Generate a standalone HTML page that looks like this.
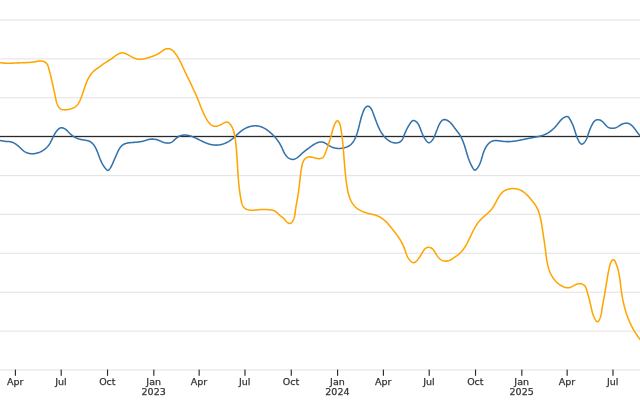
<!DOCTYPE html>
<html><head><meta charset="utf-8"><style>
html,body{margin:0;padding:0;background:#fff;}
svg{display:block;}
text{font-family:"DejaVu Sans", sans-serif;font-size:9.5px;fill:#333;stroke:#333;stroke-width:0.25px;}
</style></head><body>
<svg width="640" height="400" viewBox="0 0 640 400">
<rect width="640" height="400" fill="#fff"/>
<rect x="0" y="19.40" width="640" height="1.2" fill="#e6e6e6"/><rect x="0" y="58.29" width="640" height="1.2" fill="#e6e6e6"/><rect x="0" y="97.18" width="640" height="1.2" fill="#e6e6e6"/><rect x="0" y="174.96" width="640" height="1.2" fill="#e6e6e6"/><rect x="0" y="213.84" width="640" height="1.2" fill="#e6e6e6"/><rect x="0" y="252.73" width="640" height="1.2" fill="#e6e6e6"/><rect x="0" y="291.62" width="640" height="1.2" fill="#e6e6e6"/><rect x="0" y="330.51" width="640" height="1.2" fill="#e6e6e6"/><rect x="0" y="369.40" width="640" height="1.2" fill="#e6e6e6"/>
<rect x="0" y="135.85" width="640" height="1.3" fill="#2a2a2a"/>
<path d="M-4.00,140.20 L-3.47,140.18 L-2.95,140.17 L-2.44,140.19 L-1.94,140.22 L-1.44,140.27 L-0.95,140.32 L-0.47,140.39 L0.01,140.47 L0.49,140.56 L0.97,140.65 L1.44,140.74 L1.92,140.83 L2.40,140.93 L2.88,141.02 L3.37,141.10 L3.86,141.18 L4.36,141.25 L4.86,141.31 L5.37,141.36 L5.89,141.40 L6.42,141.43 L6.95,141.45 L7.48,141.48 L8.01,141.51 L8.53,141.54 L9.05,141.59 L9.57,141.64 L10.07,141.71 L10.57,141.80 L11.05,141.91 L11.53,142.03 L11.99,142.18 L12.45,142.34 L12.89,142.51 L13.33,142.70 L13.76,142.91 L14.18,143.13 L14.60,143.36 L15.01,143.60 L15.42,143.86 L15.81,144.13 L16.21,144.41 L16.60,144.70 L16.99,145.00 L17.37,145.30 L17.75,145.62 L18.13,145.94 L18.51,146.27 L18.88,146.60 L19.26,146.95 L19.63,147.29 L20.01,147.64 L20.38,147.99 L20.76,148.35 L21.14,148.70 L21.52,149.06 L21.90,149.41 L22.29,149.75 L22.68,150.09 L23.08,150.42 L23.48,150.74 L23.88,151.05 L24.29,151.35 L24.71,151.63 L25.13,151.89 L25.56,152.14 L26.00,152.36 L26.44,152.57 L26.89,152.76 L27.34,152.94 L27.80,153.10 L28.27,153.24 L28.74,153.36 L29.21,153.47 L29.69,153.56 L30.17,153.63 L30.65,153.69 L31.14,153.73 L31.62,153.76 L32.11,153.78 L32.60,153.77 L33.10,153.76 L33.59,153.73 L34.08,153.68 L34.58,153.62 L35.07,153.55 L35.57,153.46 L36.06,153.36 L36.55,153.25 L37.04,153.12 L37.53,152.98 L38.01,152.83 L38.49,152.67 L38.97,152.49 L39.45,152.31 L39.92,152.11 L40.39,151.90 L40.85,151.68 L41.31,151.45 L41.76,151.21 L42.21,150.95 L42.65,150.69 L43.09,150.42 L43.52,150.14 L43.94,149.84 L44.35,149.54 L44.76,149.23 L45.16,148.91 L45.55,148.59 L45.93,148.25 L46.30,147.91 L46.66,147.56 L47.01,147.20 L47.35,146.83 L47.69,146.46 L48.01,146.08 L48.31,145.69 L48.61,145.30 L48.90,144.90 L49.18,144.49 L49.45,144.08 L49.71,143.66 L49.96,143.24 L50.21,142.82 L50.45,142.39 L50.68,141.96 L50.91,141.52 L51.14,141.08 L51.36,140.64 L51.58,140.20 L51.79,139.75 L52.01,139.30 L52.22,138.86 L52.44,138.41 L52.65,137.96 L52.87,137.51 L53.08,137.06 L53.30,136.61 L53.53,136.16 L53.76,135.72 L53.99,135.27 L54.23,134.83 L54.47,134.39 L54.72,133.95 L54.98,133.51 L55.24,133.08 L55.51,132.65 L55.80,132.23 L56.09,131.81 L56.40,131.40 L56.71,130.99 L57.04,130.58 L57.38,130.19 L57.73,129.80 L58.10,129.43 L58.48,129.08 L58.87,128.76 L59.28,128.48 L59.70,128.23 L60.14,128.04 L60.59,127.89 L61.06,127.80 L61.54,127.77 L62.03,127.80 L62.52,127.87 L63.02,128.00 L63.51,128.17 L64.00,128.37 L64.47,128.61 L64.93,128.88 L65.37,129.17 L65.79,129.48 L66.19,129.80 L66.58,130.14 L66.96,130.50 L67.32,130.86 L67.68,131.22 L68.03,131.59 L68.38,131.97 L68.73,132.33 L69.09,132.70 L69.44,133.06 L69.80,133.41 L70.17,133.75 L70.54,134.08 L70.91,134.41 L71.29,134.73 L71.67,135.04 L72.05,135.34 L72.44,135.64 L72.84,135.92 L73.24,136.20 L73.65,136.47 L74.06,136.73 L74.47,136.98 L74.89,137.22 L75.32,137.46 L75.75,137.68 L76.19,137.90 L76.63,138.10 L77.08,138.30 L77.54,138.48 L78.00,138.66 L78.46,138.82 L78.94,138.98 L79.42,139.12 L79.90,139.25 L80.39,139.38 L80.89,139.49 L81.40,139.59 L81.91,139.68 L82.42,139.77 L82.94,139.85 L83.46,139.92 L83.97,140.00 L84.49,140.07 L85.01,140.15 L85.52,140.23 L86.03,140.32 L86.53,140.42 L87.03,140.52 L87.51,140.64 L87.99,140.77 L88.46,140.92 L88.91,141.08 L89.35,141.27 L89.78,141.47 L90.19,141.69 L90.59,141.93 L90.98,142.19 L91.35,142.47 L91.72,142.76 L92.07,143.07 L92.41,143.40 L92.74,143.73 L93.06,144.09 L93.38,144.45 L93.68,144.83 L93.97,145.22 L94.25,145.62 L94.53,146.04 L94.79,146.46 L95.05,146.89 L95.30,147.33 L95.54,147.78 L95.78,148.24 L96.01,148.70 L96.24,149.17 L96.46,149.65 L96.67,150.13 L96.88,150.61 L97.09,151.10 L97.29,151.59 L97.48,152.09 L97.68,152.58 L97.87,153.08 L98.06,153.58 L98.24,154.07 L98.43,154.57 L98.61,155.06 L98.79,155.55 L98.97,156.04 L99.15,156.53 L99.33,157.01 L99.51,157.49 L99.69,157.96 L99.87,158.43 L100.06,158.89 L100.24,159.34 L100.43,159.80 L100.62,160.24 L100.81,160.69 L101.01,161.13 L101.21,161.56 L101.42,162.00 L101.63,162.43 L101.84,162.85 L102.06,163.28 L102.29,163.70 L102.52,164.12 L102.76,164.53 L103.01,164.95 L103.26,165.36 L103.52,165.77 L103.80,166.18 L104.07,166.58 L104.36,166.99 L104.66,167.40 L104.97,167.80 L105.29,168.21 L105.62,168.61 L105.96,169.01 L106.31,169.41 L106.67,169.79 L107.04,170.10 L107.42,170.31 L107.81,170.39 L108.20,170.31 L108.60,170.10 L108.99,169.78 L109.37,169.37 L109.75,168.90 L110.10,168.39 L110.44,167.86 L110.75,167.35 L111.04,166.85 L111.31,166.36 L111.56,165.89 L111.79,165.42 L112.01,164.97 L112.22,164.52 L112.42,164.08 L112.61,163.64 L112.79,163.21 L112.97,162.78 L113.16,162.35 L113.34,161.92 L113.52,161.49 L113.71,161.06 L113.90,160.63 L114.09,160.19 L114.28,159.75 L114.47,159.32 L114.66,158.88 L114.86,158.43 L115.05,157.99 L115.25,157.54 L115.45,157.08 L115.65,156.62 L115.85,156.16 L116.05,155.69 L116.26,155.22 L116.46,154.75 L116.67,154.27 L116.88,153.78 L117.09,153.30 L117.30,152.81 L117.52,152.33 L117.75,151.84 L117.97,151.36 L118.21,150.89 L118.45,150.41 L118.69,149.95 L118.95,149.49 L119.21,149.04 L119.47,148.60 L119.75,148.17 L120.04,147.75 L120.33,147.34 L120.64,146.95 L120.96,146.58 L121.28,146.22 L121.62,145.87 L121.97,145.55 L122.34,145.24 L122.72,144.96 L123.11,144.69 L123.51,144.45 L123.93,144.23 L124.36,144.02 L124.80,143.83 L125.24,143.66 L125.70,143.51 L126.17,143.37 L126.64,143.24 L127.13,143.13 L127.61,143.02 L128.11,142.93 L128.61,142.85 L129.11,142.78 L129.62,142.72 L130.13,142.66 L130.65,142.61 L131.16,142.56 L131.68,142.52 L132.20,142.49 L132.72,142.45 L133.23,142.42 L133.75,142.39 L134.26,142.36 L134.77,142.33 L135.27,142.29 L135.78,142.25 L136.27,142.21 L136.77,142.17 L137.26,142.12 L137.75,142.07 L138.24,142.01 L138.72,141.95 L139.20,141.89 L139.68,141.82 L140.16,141.74 L140.64,141.66 L141.11,141.57 L141.59,141.48 L142.07,141.38 L142.54,141.27 L143.02,141.15 L143.50,141.03 L143.97,140.90 L144.45,140.76 L144.93,140.62 L145.42,140.47 L145.90,140.31 L146.39,140.16 L146.87,140.01 L147.36,139.86 L147.85,139.72 L148.35,139.59 L148.84,139.48 L149.34,139.38 L149.84,139.29 L150.35,139.23 L150.85,139.17 L151.36,139.14 L151.86,139.12 L152.37,139.11 L152.87,139.12 L153.37,139.15 L153.87,139.19 L154.37,139.24 L154.87,139.31 L155.37,139.39 L155.86,139.49 L156.34,139.60 L156.83,139.72 L157.30,139.85 L157.78,140.00 L158.25,140.17 L158.71,140.34 L159.16,140.53 L159.62,140.72 L160.07,140.92 L160.52,141.13 L160.97,141.33 L161.42,141.54 L161.88,141.74 L162.34,141.93 L162.81,142.11 L163.29,142.29 L163.78,142.45 L164.28,142.59 L164.78,142.72 L165.29,142.84 L165.80,142.93 L166.31,143.01 L166.82,143.06 L167.33,143.10 L167.83,143.11 L168.33,143.09 L168.82,143.05 L169.31,142.99 L169.79,142.89 L170.25,142.77 L170.70,142.61 L171.14,142.42 L171.56,142.21 L171.97,141.96 L172.37,141.69 L172.77,141.40 L173.15,141.09 L173.53,140.76 L173.90,140.42 L174.27,140.07 L174.64,139.72 L175.01,139.36 L175.39,139.00 L175.76,138.65 L176.15,138.31 L176.54,137.97 L176.94,137.64 L177.36,137.34 L177.79,137.05 L178.22,136.78 L178.67,136.53 L179.12,136.29 L179.58,136.08 L180.05,135.89 L180.52,135.72 L181.00,135.57 L181.48,135.44 L181.96,135.33 L182.44,135.24 L182.93,135.18 L183.42,135.12 L183.91,135.09 L184.40,135.07 L184.89,135.07 L185.38,135.09 L185.88,135.12 L186.37,135.17 L186.86,135.23 L187.36,135.30 L187.85,135.38 L188.34,135.48 L188.83,135.59 L189.32,135.71 L189.81,135.84 L190.29,135.98 L190.78,136.12 L191.26,136.28 L191.74,136.44 L192.21,136.61 L192.68,136.79 L193.15,136.97 L193.62,137.16 L194.08,137.35 L194.54,137.55 L195.00,137.76 L195.46,137.96 L195.91,138.17 L196.36,138.38 L196.81,138.60 L197.26,138.82 L197.71,139.04 L198.16,139.26 L198.61,139.48 L199.06,139.71 L199.50,139.93 L199.95,140.16 L200.39,140.38 L200.84,140.61 L201.29,140.83 L201.74,141.05 L202.19,141.27 L202.64,141.48 L203.09,141.70 L203.54,141.91 L204.00,142.12 L204.45,142.32 L204.91,142.52 L205.37,142.71 L205.84,142.90 L206.30,143.09 L206.77,143.27 L207.24,143.44 L207.72,143.60 L208.20,143.76 L208.67,143.91 L209.16,144.06 L209.64,144.19 L210.13,144.32 L210.61,144.44 L211.10,144.55 L211.59,144.66 L212.08,144.75 L212.58,144.83 L213.07,144.91 L213.57,144.97 L214.06,145.02 L214.56,145.06 L215.06,145.09 L215.55,145.11 L216.05,145.12 L216.55,145.11 L217.04,145.09 L217.54,145.06 L218.04,145.02 L218.53,144.97 L219.03,144.91 L219.52,144.84 L220.01,144.75 L220.50,144.66 L220.99,144.55 L221.48,144.44 L221.97,144.31 L222.45,144.17 L222.93,144.03 L223.41,143.87 L223.88,143.71 L224.36,143.53 L224.82,143.35 L225.29,143.16 L225.75,142.96 L226.21,142.75 L226.67,142.53 L227.12,142.31 L227.57,142.07 L228.01,141.83 L228.45,141.58 L228.88,141.32 L229.31,141.06 L229.73,140.78 L230.15,140.50 L230.56,140.22 L230.97,139.92 L231.37,139.63 L231.77,139.32 L232.16,139.01 L232.55,138.69 L232.94,138.38 L233.32,138.05 L233.70,137.72 L234.08,137.39 L234.46,137.06 L234.83,136.73 L235.20,136.39 L235.58,136.05 L235.94,135.71 L236.31,135.37 L236.68,135.03 L237.05,134.69 L237.42,134.35 L237.79,134.01 L238.16,133.68 L238.53,133.34 L238.90,133.01 L239.28,132.68 L239.66,132.35 L240.03,132.03 L240.42,131.71 L240.80,131.40 L241.19,131.09 L241.58,130.78 L241.98,130.49 L242.38,130.19 L242.78,129.91 L243.19,129.63 L243.60,129.36 L244.02,129.10 L244.45,128.84 L244.88,128.60 L245.32,128.36 L245.77,128.13 L246.22,127.91 L246.67,127.71 L247.13,127.51 L247.60,127.32 L248.07,127.14 L248.55,126.98 L249.03,126.82 L249.51,126.67 L249.99,126.54 L250.48,126.41 L250.98,126.30 L251.47,126.20 L251.96,126.11 L252.46,126.03 L252.96,125.97 L253.46,125.91 L253.96,125.87 L254.46,125.85 L254.96,125.83 L255.46,125.83 L255.96,125.84 L256.46,125.86 L256.95,125.90 L257.45,125.95 L257.94,126.01 L258.43,126.09 L258.92,126.18 L259.40,126.29 L259.88,126.41 L260.36,126.54 L260.83,126.69 L261.30,126.85 L261.77,127.03 L262.23,127.22 L262.69,127.42 L263.14,127.63 L263.59,127.85 L264.04,128.09 L264.48,128.33 L264.92,128.58 L265.35,128.85 L265.78,129.12 L266.21,129.40 L266.63,129.68 L267.05,129.97 L267.46,130.27 L267.87,130.58 L268.28,130.89 L268.68,131.20 L269.08,131.52 L269.47,131.84 L269.86,132.17 L270.24,132.50 L270.62,132.83 L271.00,133.16 L271.37,133.50 L271.74,133.84 L272.10,134.18 L272.46,134.52 L272.82,134.87 L273.17,135.22 L273.52,135.57 L273.86,135.92 L274.20,136.28 L274.53,136.64 L274.86,137.01 L275.19,137.37 L275.51,137.75 L275.82,138.12 L276.14,138.50 L276.44,138.88 L276.75,139.26 L277.05,139.65 L277.34,140.04 L277.63,140.44 L277.92,140.84 L278.20,141.24 L278.48,141.65 L278.76,142.06 L279.02,142.47 L279.29,142.89 L279.55,143.31 L279.81,143.74 L280.06,144.17 L280.31,144.61 L280.55,145.05 L280.79,145.50 L281.02,145.95 L281.25,146.40 L281.48,146.86 L281.70,147.32 L281.92,147.79 L282.14,148.26 L282.35,148.73 L282.57,149.21 L282.78,149.68 L283.00,150.15 L283.21,150.62 L283.43,151.09 L283.66,151.56 L283.88,152.02 L284.12,152.48 L284.35,152.93 L284.60,153.37 L284.85,153.81 L285.12,154.24 L285.39,154.66 L285.67,155.07 L285.96,155.47 L286.27,155.85 L286.58,156.23 L286.92,156.59 L287.26,156.93 L287.62,157.26 L288.00,157.58 L288.40,157.87 L288.81,158.15 L289.24,158.41 L289.68,158.65 L290.14,158.86 L290.60,159.05 L291.07,159.20 L291.55,159.31 L292.02,159.39 L292.48,159.42 L292.94,159.41 L293.40,159.37 L293.85,159.29 L294.30,159.17 L294.75,159.03 L295.19,158.85 L295.62,158.65 L296.05,158.42 L296.48,158.17 L296.91,157.89 L297.33,157.60 L297.75,157.29 L298.16,156.97 L298.57,156.63 L298.98,156.28 L299.38,155.93 L299.78,155.57 L300.18,155.20 L300.57,154.83 L300.96,154.46 L301.35,154.09 L301.73,153.73 L302.12,153.37 L302.50,153.03 L302.87,152.69 L303.25,152.36 L303.62,152.04 L303.99,151.73 L304.36,151.43 L304.73,151.13 L305.10,150.84 L305.47,150.55 L305.84,150.27 L306.22,149.99 L306.59,149.71 L306.97,149.43 L307.35,149.15 L307.73,148.87 L308.12,148.59 L308.51,148.30 L308.91,148.01 L309.31,147.72 L309.72,147.42 L310.14,147.12 L310.56,146.81 L310.98,146.50 L311.41,146.19 L311.84,145.88 L312.28,145.58 L312.72,145.27 L313.17,144.98 L313.62,144.68 L314.07,144.40 L314.52,144.12 L314.98,143.86 L315.44,143.61 L315.90,143.36 L316.37,143.14 L316.83,142.93 L317.30,142.73 L317.76,142.56 L318.23,142.40 L318.70,142.26 L319.17,142.15 L319.63,142.06 L320.10,142.00 L320.57,141.96 L321.03,141.95 L321.50,141.96 L321.96,142.01 L322.42,142.09 L322.88,142.20 L323.33,142.34 L323.79,142.51 L324.24,142.71 L324.69,142.92 L325.14,143.15 L325.59,143.40 L326.04,143.67 L326.49,143.94 L326.94,144.22 L327.38,144.51 L327.83,144.80 L328.27,145.08 L328.72,145.37 L329.17,145.65 L329.61,145.91 L330.06,146.17 L330.51,146.42 L330.96,146.65 L331.41,146.86 L331.86,147.06 L332.31,147.25 L332.76,147.42 L333.22,147.58 L333.68,147.73 L334.14,147.86 L334.60,147.98 L335.06,148.09 L335.53,148.18 L336.00,148.26 L336.47,148.33 L336.94,148.39 L337.42,148.43 L337.90,148.46 L338.39,148.48 L338.88,148.48 L339.37,148.48 L339.86,148.46 L340.36,148.43 L340.86,148.39 L341.37,148.33 L341.88,148.27 L342.40,148.19 L342.91,148.10 L343.43,148.00 L343.94,147.89 L344.46,147.76 L344.97,147.62 L345.47,147.47 L345.97,147.30 L346.46,147.13 L346.95,146.93 L347.42,146.73 L347.89,146.51 L348.34,146.27 L348.78,146.03 L349.21,145.76 L349.62,145.49 L350.02,145.20 L350.41,144.89 L350.78,144.58 L351.14,144.25 L351.49,143.91 L351.82,143.55 L352.14,143.19 L352.46,142.82 L352.76,142.44 L353.05,142.04 L353.33,141.64 L353.60,141.24 L353.86,140.82 L354.11,140.40 L354.35,139.97 L354.59,139.53 L354.81,139.09 L355.03,138.64 L355.24,138.19 L355.45,137.73 L355.65,137.27 L355.84,136.81 L356.02,136.34 L356.21,135.87 L356.38,135.40 L356.55,134.93 L356.72,134.46 L356.88,133.99 L357.03,133.51 L357.19,133.04 L357.34,132.56 L357.48,132.09 L357.63,131.61 L357.77,131.13 L357.90,130.65 L358.04,130.17 L358.17,129.69 L358.30,129.20 L358.42,128.72 L358.55,128.24 L358.67,127.75 L358.79,127.27 L358.91,126.79 L359.03,126.30 L359.15,125.81 L359.27,125.33 L359.39,124.84 L359.51,124.36 L359.62,123.87 L359.74,123.38 L359.86,122.90 L359.98,122.41 L360.10,121.92 L360.22,121.44 L360.34,120.95 L360.47,120.46 L360.59,119.98 L360.72,119.49 L360.85,119.01 L360.98,118.52 L361.11,118.04 L361.25,117.55 L361.39,117.07 L361.53,116.59 L361.68,116.10 L361.83,115.62 L361.99,115.14 L362.14,114.66 L362.31,114.18 L362.47,113.70 L362.65,113.23 L362.82,112.75 L363.00,112.27 L363.19,111.80 L363.38,111.32 L363.58,110.85 L363.79,110.38 L364.00,109.91 L364.22,109.45 L364.45,109.00 L364.70,108.56 L364.98,108.14 L365.27,107.74 L365.59,107.38 L365.95,107.04 L366.34,106.74 L366.76,106.49 L367.21,106.30 L367.67,106.19 L368.13,106.18 L368.58,106.28 L369.02,106.48 L369.45,106.76 L369.85,107.10 L370.23,107.49 L370.58,107.91 L370.91,108.33 L371.20,108.77 L371.47,109.21 L371.71,109.65 L371.94,110.10 L372.15,110.56 L372.34,111.02 L372.52,111.48 L372.70,111.94 L372.86,112.41 L373.03,112.87 L373.20,113.34 L373.37,113.81 L373.54,114.28 L373.71,114.75 L373.88,115.22 L374.05,115.69 L374.23,116.16 L374.40,116.63 L374.58,117.09 L374.76,117.56 L374.93,118.03 L375.11,118.51 L375.29,118.98 L375.46,119.45 L375.64,119.92 L375.82,120.39 L376.00,120.86 L376.18,121.33 L376.35,121.80 L376.53,122.26 L376.71,122.73 L376.89,123.20 L377.08,123.67 L377.26,124.13 L377.45,124.60 L377.64,125.06 L377.83,125.52 L378.02,125.98 L378.22,126.44 L378.42,126.90 L378.62,127.35 L378.83,127.81 L379.04,128.26 L379.25,128.71 L379.47,129.15 L379.69,129.60 L379.92,130.04 L380.15,130.48 L380.39,130.91 L380.63,131.35 L380.88,131.77 L381.13,132.20 L381.39,132.62 L381.65,133.04 L381.92,133.46 L382.20,133.87 L382.49,134.28 L382.78,134.68 L383.08,135.08 L383.38,135.48 L383.70,135.87 L384.02,136.26 L384.35,136.64 L384.69,137.01 L385.03,137.39 L385.39,137.75 L385.75,138.12 L386.12,138.47 L386.50,138.82 L386.89,139.16 L387.29,139.49 L387.69,139.81 L388.10,140.11 L388.52,140.41 L388.94,140.70 L389.37,140.97 L389.80,141.23 L390.25,141.47 L390.69,141.70 L391.15,141.91 L391.60,142.10 L392.07,142.28 L392.53,142.44 L393.00,142.58 L393.48,142.69 L393.96,142.79 L394.44,142.87 L394.93,142.92 L395.42,142.95 L395.91,142.95 L396.41,142.93 L396.90,142.88 L397.40,142.81 L397.89,142.71 L398.37,142.58 L398.85,142.42 L399.31,142.23 L399.75,142.02 L400.18,141.77 L400.58,141.50 L400.96,141.19 L401.31,140.85 L401.64,140.48 L401.94,140.08 L402.22,139.66 L402.48,139.22 L402.72,138.76 L402.95,138.29 L403.17,137.81 L403.37,137.32 L403.57,136.82 L403.76,136.33 L403.94,135.83 L404.13,135.34 L404.31,134.86 L404.50,134.39 L404.68,133.92 L404.87,133.45 L405.06,132.99 L405.25,132.54 L405.44,132.09 L405.63,131.64 L405.83,131.19 L406.03,130.75 L406.23,130.32 L406.44,129.88 L406.65,129.45 L406.87,129.01 L407.09,128.58 L407.32,128.15 L407.55,127.72 L407.79,127.28 L408.03,126.85 L408.28,126.41 L408.54,125.98 L408.81,125.54 L409.08,125.10 L409.36,124.65 L409.65,124.20 L409.95,123.75 L410.26,123.29 L410.57,122.83 L410.90,122.39 L411.24,121.96 L411.59,121.57 L411.95,121.23 L412.33,120.94 L412.72,120.71 L413.13,120.57 L413.56,120.51 L414.00,120.55 L414.45,120.67 L414.90,120.86 L415.36,121.12 L415.80,121.43 L416.23,121.78 L416.65,122.15 L417.03,122.55 L417.39,122.96 L417.72,123.38 L418.03,123.80 L418.31,124.23 L418.57,124.67 L418.82,125.12 L419.05,125.57 L419.26,126.02 L419.46,126.48 L419.65,126.94 L419.84,127.40 L420.02,127.86 L420.20,128.32 L420.37,128.78 L420.55,129.24 L420.72,129.70 L420.90,130.16 L421.07,130.62 L421.25,131.08 L421.43,131.53 L421.61,131.99 L421.79,132.45 L421.98,132.90 L422.16,133.36 L422.36,133.81 L422.56,134.26 L422.76,134.71 L422.97,135.16 L423.18,135.62 L423.40,136.06 L423.63,136.51 L423.87,136.96 L424.11,137.41 L424.37,137.85 L424.63,138.30 L424.90,138.74 L425.19,139.18 L425.48,139.63 L425.79,140.07 L426.11,140.51 L426.44,140.94 L426.78,141.36 L427.13,141.76 L427.50,142.10 L427.88,142.39 L428.26,142.60 L428.66,142.72 L429.07,142.74 L429.49,142.65 L429.91,142.46 L430.33,142.19 L430.75,141.86 L431.16,141.48 L431.55,141.07 L431.92,140.63 L432.27,140.19 L432.59,139.74 L432.90,139.30 L433.18,138.85 L433.44,138.41 L433.69,137.96 L433.92,137.51 L434.14,137.06 L434.35,136.62 L434.55,136.17 L434.74,135.73 L434.92,135.28 L435.10,134.84 L435.27,134.40 L435.44,133.96 L435.61,133.52 L435.78,133.08 L435.94,132.64 L436.11,132.20 L436.28,131.75 L436.44,131.30 L436.61,130.85 L436.78,130.40 L436.96,129.94 L437.13,129.47 L437.32,129.00 L437.50,128.52 L437.69,128.03 L437.89,127.54 L438.09,127.04 L438.30,126.53 L438.52,126.02 L438.75,125.51 L438.98,125.00 L439.22,124.50 L439.47,124.01 L439.73,123.53 L440.00,123.06 L440.28,122.61 L440.57,122.18 L440.87,121.78 L441.19,121.40 L441.51,121.04 L441.85,120.72 L442.20,120.44 L442.56,120.19 L442.94,119.97 L443.33,119.81 L443.73,119.69 L444.15,119.61 L444.59,119.59 L445.04,119.62 L445.50,119.70 L445.97,119.83 L446.45,120.00 L446.93,120.21 L447.41,120.45 L447.89,120.72 L448.36,121.02 L448.82,121.33 L449.26,121.67 L449.69,122.02 L450.10,122.37 L450.49,122.73 L450.86,123.10 L451.21,123.48 L451.55,123.86 L451.88,124.24 L452.19,124.63 L452.50,125.02 L452.79,125.41 L453.09,125.81 L453.37,126.21 L453.66,126.60 L453.94,127.00 L454.23,127.40 L454.51,127.80 L454.81,128.19 L455.10,128.59 L455.40,128.98 L455.71,129.37 L456.01,129.76 L456.32,130.15 L456.63,130.55 L456.94,130.94 L457.25,131.33 L457.55,131.73 L457.86,132.13 L458.16,132.53 L458.46,132.93 L458.75,133.34 L459.04,133.75 L459.32,134.16 L459.60,134.58 L459.86,135.00 L460.12,135.43 L460.38,135.86 L460.63,136.30 L460.87,136.73 L461.10,137.18 L461.33,137.62 L461.55,138.07 L461.77,138.52 L461.98,138.98 L462.19,139.44 L462.39,139.90 L462.59,140.36 L462.78,140.83 L462.97,141.29 L463.15,141.76 L463.33,142.24 L463.51,142.71 L463.68,143.18 L463.85,143.66 L464.01,144.14 L464.17,144.62 L464.33,145.09 L464.49,145.57 L464.64,146.05 L464.80,146.54 L464.95,147.02 L465.09,147.50 L465.24,147.98 L465.39,148.46 L465.53,148.94 L465.67,149.42 L465.81,149.90 L465.95,150.38 L466.09,150.85 L466.23,151.33 L466.37,151.80 L466.51,152.28 L466.65,152.75 L466.79,153.22 L466.93,153.69 L467.08,154.16 L467.22,154.63 L467.37,155.10 L467.51,155.57 L467.66,156.04 L467.81,156.50 L467.97,156.97 L468.12,157.44 L468.28,157.90 L468.44,158.37 L468.61,158.83 L468.78,159.30 L468.95,159.76 L469.12,160.23 L469.30,160.70 L469.49,161.16 L469.68,161.63 L469.87,162.09 L470.07,162.56 L470.28,163.03 L470.49,163.49 L470.70,163.96 L470.92,164.43 L471.15,164.90 L471.38,165.37 L471.62,165.84 L471.87,166.31 L472.13,166.78 L472.39,167.26 L472.66,167.73 L472.93,168.21 L473.22,168.67 L473.51,169.09 L473.82,169.47 L474.14,169.78 L474.46,170.00 L474.80,170.11 L475.16,170.10 L475.52,169.98 L475.89,169.75 L476.27,169.44 L476.64,169.06 L477.01,168.62 L477.37,168.14 L477.72,167.64 L478.05,167.12 L478.36,166.61 L478.66,166.11 L478.93,165.62 L479.19,165.14 L479.43,164.66 L479.65,164.19 L479.86,163.73 L480.06,163.27 L480.25,162.82 L480.42,162.37 L480.58,161.92 L480.74,161.47 L480.89,161.02 L481.04,160.58 L481.18,160.13 L481.31,159.68 L481.45,159.23 L481.58,158.77 L481.71,158.31 L481.85,157.85 L481.98,157.38 L482.12,156.91 L482.25,156.43 L482.39,155.96 L482.54,155.48 L482.68,155.00 L482.83,154.52 L482.98,154.04 L483.14,153.56 L483.30,153.08 L483.47,152.60 L483.64,152.12 L483.81,151.64 L484.00,151.17 L484.19,150.69 L484.38,150.22 L484.58,149.76 L484.79,149.29 L485.01,148.84 L485.24,148.38 L485.48,147.93 L485.72,147.49 L485.98,147.05 L486.24,146.62 L486.51,146.20 L486.80,145.78 L487.10,145.37 L487.40,144.97 L487.72,144.58 L488.05,144.19 L488.40,143.82 L488.75,143.46 L489.12,143.11 L489.50,142.78 L489.90,142.46 L490.30,142.16 L490.71,141.89 L491.13,141.64 L491.57,141.41 L492.01,141.22 L492.46,141.05 L492.92,140.91 L493.39,140.80 L493.87,140.71 L494.35,140.65 L494.84,140.60 L495.33,140.58 L495.83,140.57 L496.33,140.58 L496.84,140.61 L497.35,140.64 L497.86,140.69 L498.37,140.74 L498.89,140.80 L499.40,140.87 L499.91,140.94 L500.42,141.01 L500.94,141.08 L501.45,141.14 L501.95,141.21 L502.46,141.28 L502.97,141.34 L503.47,141.40 L503.98,141.45 L504.48,141.50 L504.98,141.54 L505.49,141.57 L505.99,141.60 L506.49,141.62 L506.98,141.63 L507.48,141.64 L507.98,141.64 L508.47,141.63 L508.97,141.62 L509.47,141.61 L509.96,141.58 L510.45,141.55 L510.95,141.52 L511.44,141.48 L511.93,141.44 L512.42,141.39 L512.91,141.34 L513.40,141.28 L513.89,141.22 L514.38,141.15 L514.87,141.08 L515.36,141.01 L515.85,140.93 L516.34,140.85 L516.83,140.77 L517.32,140.68 L517.81,140.60 L518.29,140.50 L518.78,140.41 L519.27,140.32 L519.76,140.22 L520.25,140.12 L520.74,140.02 L521.23,139.92 L521.72,139.82 L522.20,139.71 L522.69,139.61 L523.18,139.50 L523.67,139.40 L524.16,139.29 L524.66,139.19 L525.15,139.08 L525.64,138.97 L526.13,138.87 L526.62,138.76 L527.12,138.66 L527.61,138.56 L528.11,138.46 L528.60,138.36 L529.10,138.26 L529.60,138.16 L530.09,138.07 L530.59,137.98 L531.09,137.89 L531.59,137.80 L532.09,137.71 L532.59,137.62 L533.09,137.54 L533.59,137.45 L534.09,137.36 L534.59,137.27 L535.09,137.18 L535.59,137.09 L536.08,137.00 L536.58,136.90 L537.07,136.81 L537.57,136.71 L538.06,136.60 L538.55,136.49 L539.04,136.38 L539.52,136.27 L540.00,136.15 L540.49,136.02 L540.96,135.89 L541.44,135.75 L541.91,135.61 L542.38,135.46 L542.85,135.31 L543.31,135.14 L543.77,134.97 L544.23,134.80 L544.68,134.61 L545.13,134.41 L545.57,134.21 L546.01,134.00 L546.45,133.78 L546.88,133.55 L547.31,133.31 L547.74,133.07 L548.16,132.81 L548.57,132.55 L548.98,132.28 L549.39,132.01 L549.80,131.73 L550.20,131.44 L550.59,131.14 L550.98,130.84 L551.37,130.53 L551.76,130.21 L552.14,129.89 L552.51,129.57 L552.88,129.23 L553.25,128.89 L553.62,128.55 L553.98,128.20 L554.33,127.84 L554.68,127.48 L555.03,127.12 L555.38,126.74 L555.72,126.37 L556.05,125.99 L556.38,125.61 L556.71,125.22 L557.04,124.83 L557.36,124.43 L557.67,124.03 L557.99,123.63 L558.30,123.23 L558.61,122.83 L558.93,122.43 L559.24,122.03 L559.56,121.64 L559.88,121.25 L560.21,120.86 L560.54,120.49 L560.87,120.12 L561.22,119.76 L561.57,119.41 L561.93,119.07 L562.30,118.75 L562.69,118.43 L563.08,118.14 L563.49,117.86 L563.92,117.59 L564.36,117.35 L564.81,117.12 L565.28,116.92 L565.77,116.74 L566.26,116.60 L566.74,116.53 L567.21,116.53 L567.64,116.63 L568.04,116.82 L568.41,117.10 L568.75,117.45 L569.07,117.85 L569.37,118.29 L569.66,118.77 L569.94,119.25 L570.20,119.75 L570.47,120.23 L570.72,120.71 L570.97,121.18 L571.22,121.65 L571.46,122.12 L571.69,122.58 L571.92,123.04 L572.14,123.50 L572.36,123.95 L572.56,124.40 L572.77,124.86 L572.96,125.31 L573.15,125.76 L573.33,126.21 L573.50,126.66 L573.67,127.12 L573.83,127.57 L573.99,128.03 L574.15,128.48 L574.30,128.94 L574.45,129.40 L574.59,129.86 L574.74,130.32 L574.88,130.78 L575.02,131.25 L575.16,131.71 L575.30,132.17 L575.45,132.64 L575.59,133.11 L575.74,133.58 L575.89,134.05 L576.05,134.52 L576.21,134.99 L576.37,135.46 L576.54,135.94 L576.71,136.42 L576.90,136.89 L577.09,137.37 L577.28,137.85 L577.49,138.34 L577.70,138.82 L577.93,139.31 L578.16,139.79 L578.40,140.28 L578.66,140.77 L578.93,141.27 L579.21,141.76 L579.50,142.23 L579.81,142.68 L580.12,143.09 L580.45,143.45 L580.80,143.74 L581.15,143.97 L581.52,144.11 L581.90,144.15 L582.29,144.08 L582.68,143.92 L583.09,143.68 L583.49,143.37 L583.88,142.99 L584.27,142.58 L584.64,142.12 L585.00,141.64 L585.34,141.15 L585.65,140.67 L585.93,140.18 L586.19,139.70 L586.43,139.23 L586.65,138.76 L586.85,138.29 L587.04,137.82 L587.22,137.36 L587.38,136.90 L587.54,136.44 L587.68,135.98 L587.83,135.53 L587.97,135.08 L588.11,134.62 L588.25,134.17 L588.39,133.72 L588.54,133.27 L588.69,132.83 L588.85,132.37 L589.00,131.92 L589.17,131.47 L589.33,131.02 L589.50,130.56 L589.68,130.10 L589.86,129.64 L590.05,129.17 L590.24,128.70 L590.44,128.23 L590.64,127.75 L590.85,127.27 L591.06,126.78 L591.28,126.29 L591.51,125.79 L591.75,125.30 L592.00,124.81 L592.25,124.33 L592.51,123.85 L592.79,123.39 L593.07,122.95 L593.37,122.52 L593.67,122.11 L593.99,121.72 L594.32,121.36 L594.67,121.02 L595.03,120.72 L595.40,120.45 L595.79,120.22 L596.19,120.03 L596.61,119.87 L597.05,119.76 L597.50,119.70 L597.97,119.69 L598.46,119.73 L598.95,119.81 L599.45,119.93 L599.94,120.09 L600.42,120.29 L600.89,120.53 L601.34,120.79 L601.77,121.08 L602.18,121.39 L602.57,121.72 L602.95,122.07 L603.32,122.44 L603.67,122.81 L604.02,123.20 L604.36,123.59 L604.70,123.98 L605.04,124.37 L605.37,124.76 L605.71,125.14 L606.05,125.51 L606.41,125.86 L606.77,126.20 L607.14,126.52 L607.52,126.82 L607.93,127.10 L608.35,127.34 L608.78,127.56 L609.24,127.74 L609.70,127.90 L610.18,128.03 L610.67,128.13 L611.17,128.21 L611.67,128.26 L612.18,128.28 L612.69,128.27 L613.20,128.24 L613.71,128.19 L614.22,128.11 L614.73,128.01 L615.22,127.88 L615.71,127.73 L616.19,127.56 L616.66,127.36 L617.11,127.15 L617.55,126.91 L617.98,126.66 L618.40,126.39 L618.82,126.11 L619.23,125.83 L619.64,125.55 L620.06,125.27 L620.48,125.00 L620.91,124.74 L621.35,124.49 L621.81,124.26 L622.28,124.04 L622.76,123.85 L623.25,123.68 L623.74,123.53 L624.24,123.40 L624.74,123.30 L625.24,123.22 L625.74,123.17 L626.23,123.14 L626.72,123.15 L627.20,123.19 L627.68,123.25 L628.14,123.36 L628.59,123.49 L629.03,123.65 L629.46,123.84 L629.88,124.06 L630.29,124.31 L630.69,124.58 L631.08,124.87 L631.46,125.18 L631.83,125.51 L632.20,125.85 L632.56,126.22 L632.91,126.59 L633.25,126.98 L633.59,127.38 L633.93,127.79 L634.26,128.21 L634.58,128.63 L634.90,129.05 L635.21,129.48 L635.52,129.91 L635.83,130.34 L636.14,130.77 L636.44,131.19 L636.74,131.61 L637.04,132.02 L637.34,132.42 L637.64,132.81 L637.94,133.20 L638.23,133.58 L638.53,133.95 L638.83,134.32 L639.12,134.69 L639.42,135.06 L639.71,135.42 L640.01,135.79 L640.31,136.15 L640.61,136.52 L640.91,136.89 L641.21,137.27 L641.51,137.65 L641.81,138.04 L642.12,138.43 L642.43,138.83 L642.74,139.24 L643.05,139.67 L643.36,140.10 L643.68,140.55 L644.00,141.00" fill="none" stroke="#3473AA" stroke-width="1.55" stroke-linejoin="round"/>
<path d="M-3.99,61.68 L-3.50,61.82 L-3.01,61.95 L-2.52,62.08 L-2.03,62.20 L-1.53,62.31 L-1.04,62.41 L-0.55,62.51 L-0.06,62.60 L0.44,62.68 L0.93,62.75 L1.42,62.82 L1.92,62.88 L2.41,62.94 L2.91,62.99 L3.40,63.04 L3.90,63.08 L4.39,63.11 L4.89,63.14 L5.39,63.17 L5.88,63.19 L6.38,63.21 L6.88,63.22 L7.37,63.23 L7.87,63.23 L8.37,63.23 L8.87,63.23 L9.36,63.23 L9.86,63.22 L10.36,63.21 L10.86,63.20 L11.36,63.19 L11.86,63.17 L12.36,63.15 L12.85,63.13 L13.35,63.11 L13.85,63.09 L14.35,63.07 L14.85,63.05 L15.35,63.02 L15.85,63.00 L16.35,62.98 L16.85,62.95 L17.35,62.93 L17.85,62.91 L18.35,62.89 L18.85,62.87 L19.35,62.85 L19.86,62.83 L20.36,62.82 L20.86,62.80 L21.36,62.78 L21.86,62.77 L22.36,62.75 L22.86,62.74 L23.36,62.72 L23.86,62.71 L24.36,62.69 L24.86,62.67 L25.36,62.65 L25.86,62.63 L26.36,62.61 L26.86,62.59 L27.36,62.56 L27.86,62.53 L28.36,62.50 L28.86,62.47 L29.36,62.43 L29.86,62.39 L30.35,62.35 L30.85,62.31 L31.35,62.26 L31.85,62.21 L32.34,62.15 L32.84,62.09 L33.34,62.02 L33.83,61.95 L34.33,61.88 L34.82,61.80 L35.32,61.71 L35.81,61.62 L36.30,61.53 L36.80,61.43 L37.29,61.34 L37.79,61.25 L38.28,61.17 L38.78,61.11 L39.28,61.05 L39.78,61.02 L40.29,61.01 L40.79,61.02 L41.30,61.05 L41.81,61.11 L42.31,61.20 L42.81,61.31 L43.29,61.45 L43.77,61.61 L44.23,61.80 L44.68,62.01 L45.11,62.25 L45.52,62.52 L45.90,62.81 L46.26,63.13 L46.59,63.48 L46.90,63.86 L47.17,64.26 L47.41,64.68 L47.63,65.13 L47.82,65.59 L48.00,66.07 L48.16,66.56 L48.32,67.05 L48.47,67.55 L48.61,68.04 L48.76,68.53 L48.90,69.02 L49.04,69.52 L49.18,70.01 L49.31,70.50 L49.45,70.99 L49.58,71.48 L49.71,71.96 L49.84,72.45 L49.97,72.94 L50.09,73.43 L50.22,73.91 L50.34,74.40 L50.46,74.88 L50.58,75.37 L50.70,75.85 L50.81,76.34 L50.93,76.82 L51.04,77.31 L51.16,77.79 L51.27,78.27 L51.38,78.76 L51.49,79.24 L51.60,79.72 L51.71,80.21 L51.82,80.69 L51.93,81.18 L52.04,81.66 L52.15,82.14 L52.25,82.63 L52.36,83.11 L52.47,83.60 L52.57,84.08 L52.68,84.57 L52.78,85.05 L52.89,85.54 L53.00,86.02 L53.10,86.51 L53.21,87.00 L53.32,87.49 L53.42,87.97 L53.53,88.46 L53.64,88.95 L53.75,89.44 L53.86,89.93 L53.96,90.43 L54.07,90.92 L54.18,91.41 L54.29,91.90 L54.40,92.40 L54.51,92.89 L54.62,93.38 L54.73,93.87 L54.83,94.37 L54.94,94.86 L55.05,95.35 L55.15,95.84 L55.26,96.33 L55.36,96.82 L55.46,97.31 L55.56,97.80 L55.66,98.29 L55.76,98.78 L55.85,99.26 L55.95,99.75 L56.05,100.23 L56.16,100.72 L56.26,101.20 L56.38,101.68 L56.51,102.16 L56.64,102.63 L56.79,103.11 L56.95,103.58 L57.13,104.06 L57.32,104.53 L57.54,104.99 L57.77,105.46 L58.02,105.92 L58.29,106.37 L58.59,106.81 L58.90,107.24 L59.23,107.64 L59.58,108.01 L59.95,108.36 L60.33,108.67 L60.73,108.94 L61.15,109.17 L61.59,109.36 L62.03,109.52 L62.49,109.64 L62.96,109.74 L63.45,109.80 L63.94,109.84 L64.43,109.86 L64.94,109.86 L65.45,109.84 L65.96,109.81 L66.47,109.77 L66.99,109.71 L67.51,109.64 L68.02,109.56 L68.54,109.47 L69.06,109.36 L69.57,109.24 L70.08,109.11 L70.58,108.97 L71.08,108.81 L71.57,108.64 L72.06,108.46 L72.54,108.26 L73.01,108.05 L73.47,107.83 L73.93,107.60 L74.37,107.35 L74.79,107.09 L75.21,106.81 L75.61,106.52 L76.00,106.22 L76.38,105.90 L76.73,105.57 L77.07,105.23 L77.40,104.87 L77.70,104.50 L77.99,104.12 L78.26,103.72 L78.52,103.31 L78.76,102.90 L79.00,102.47 L79.23,102.04 L79.45,101.61 L79.66,101.16 L79.87,100.72 L80.07,100.27 L80.27,99.82 L80.47,99.36 L80.66,98.91 L80.85,98.45 L81.03,97.98 L81.21,97.52 L81.39,97.05 L81.57,96.58 L81.74,96.11 L81.92,95.63 L82.09,95.16 L82.25,94.68 L82.42,94.20 L82.58,93.72 L82.75,93.24 L82.91,92.76 L83.07,92.27 L83.23,91.79 L83.39,91.30 L83.55,90.82 L83.71,90.33 L83.87,89.85 L84.03,89.36 L84.19,88.88 L84.35,88.40 L84.51,87.91 L84.68,87.43 L84.84,86.95 L85.01,86.47 L85.18,85.99 L85.35,85.51 L85.52,85.03 L85.69,84.55 L85.87,84.08 L86.05,83.61 L86.23,83.14 L86.42,82.67 L86.61,82.21 L86.80,81.75 L87.00,81.29 L87.20,80.83 L87.40,80.38 L87.61,79.92 L87.82,79.48 L88.04,79.03 L88.27,78.59 L88.49,78.16 L88.73,77.72 L88.97,77.30 L89.21,76.87 L89.46,76.45 L89.72,76.04 L89.98,75.63 L90.25,75.22 L90.53,74.82 L90.82,74.43 L91.11,74.04 L91.41,73.65 L91.71,73.27 L92.03,72.90 L92.35,72.53 L92.68,72.17 L93.02,71.82 L93.37,71.47 L93.72,71.13 L94.09,70.79 L94.46,70.46 L94.84,70.14 L95.24,69.83 L95.64,69.52 L96.05,69.22 L96.47,68.92 L96.89,68.63 L97.31,68.34 L97.74,68.05 L98.17,67.76 L98.59,67.47 L99.02,67.18 L99.44,66.88 L99.85,66.59 L100.27,66.29 L100.67,65.98 L101.08,65.68 L101.48,65.38 L101.88,65.08 L102.28,64.78 L102.68,64.49 L103.08,64.20 L103.48,63.91 L103.88,63.63 L104.28,63.36 L104.68,63.09 L105.09,62.82 L105.49,62.56 L105.90,62.30 L106.30,62.04 L106.71,61.78 L107.12,61.52 L107.53,61.27 L107.94,61.01 L108.36,60.75 L108.77,60.49 L109.18,60.23 L109.60,59.97 L110.01,59.70 L110.43,59.43 L110.85,59.16 L111.27,58.88 L111.68,58.59 L112.10,58.30 L112.52,58.01 L112.95,57.70 L113.37,57.39 L113.79,57.07 L114.21,56.75 L114.64,56.43 L115.06,56.11 L115.49,55.79 L115.92,55.47 L116.35,55.17 L116.78,54.87 L117.22,54.58 L117.66,54.31 L118.10,54.05 L118.54,53.81 L118.98,53.59 L119.43,53.40 L119.88,53.23 L120.33,53.08 L120.79,52.96 L121.24,52.88 L121.71,52.83 L122.17,52.81 L122.64,52.83 L123.12,52.89 L123.59,52.98 L124.07,53.10 L124.54,53.24 L125.02,53.41 L125.49,53.59 L125.96,53.79 L126.43,53.99 L126.89,54.21 L127.35,54.43 L127.80,54.66 L128.26,54.90 L128.71,55.14 L129.16,55.38 L129.60,55.63 L130.05,55.88 L130.49,56.12 L130.93,56.37 L131.38,56.61 L131.82,56.85 L132.26,57.09 L132.71,57.32 L133.15,57.54 L133.60,57.76 L134.05,57.96 L134.49,58.16 L134.95,58.34 L135.40,58.51 L135.86,58.67 L136.32,58.82 L136.78,58.94 L137.25,59.05 L137.72,59.15 L138.19,59.22 L138.67,59.27 L139.16,59.31 L139.65,59.32 L140.14,59.33 L140.63,59.31 L141.13,59.28 L141.63,59.23 L142.13,59.17 L142.64,59.10 L143.14,59.02 L143.64,58.93 L144.15,58.82 L144.66,58.71 L145.16,58.59 L145.67,58.46 L146.17,58.32 L146.68,58.18 L147.18,58.03 L147.68,57.88 L148.17,57.73 L148.67,57.57 L149.16,57.41 L149.65,57.26 L150.13,57.10 L150.61,56.94 L151.09,56.78 L151.56,56.63 L152.03,56.47 L152.50,56.31 L152.96,56.15 L153.42,55.98 L153.87,55.81 L154.32,55.64 L154.77,55.46 L155.22,55.28 L155.66,55.09 L156.10,54.89 L156.53,54.69 L156.97,54.48 L157.40,54.25 L157.83,54.02 L158.25,53.78 L158.67,53.53 L159.10,53.27 L159.51,53.00 L159.93,52.71 L160.35,52.41 L160.76,52.10 L161.17,51.78 L161.59,51.46 L162.00,51.15 L162.42,50.83 L162.85,50.53 L163.28,50.24 L163.71,49.96 L164.16,49.71 L164.61,49.48 L165.07,49.27 L165.55,49.10 L166.03,48.96 L166.51,48.85 L167.00,48.77 L167.49,48.72 L167.99,48.71 L168.48,48.72 L168.96,48.77 L169.44,48.86 L169.91,48.97 L170.37,49.12 L170.82,49.30 L171.25,49.52 L171.67,49.77 L172.08,50.05 L172.47,50.36 L172.84,50.69 L173.21,51.04 L173.57,51.40 L173.91,51.79 L174.25,52.18 L174.58,52.58 L174.90,52.99 L175.21,53.40 L175.52,53.81 L175.82,54.22 L176.12,54.64 L176.41,55.06 L176.69,55.48 L176.97,55.90 L177.25,56.33 L177.52,56.75 L177.78,57.18 L178.04,57.61 L178.30,58.04 L178.55,58.47 L178.80,58.91 L179.04,59.34 L179.29,59.78 L179.52,60.22 L179.76,60.66 L179.99,61.10 L180.21,61.54 L180.44,61.98 L180.66,62.43 L180.88,62.87 L181.10,63.32 L181.32,63.77 L181.53,64.21 L181.74,64.66 L181.96,65.11 L182.17,65.56 L182.37,66.01 L182.58,66.46 L182.79,66.91 L183.00,67.36 L183.20,67.82 L183.41,68.27 L183.62,68.72 L183.82,69.17 L184.03,69.62 L184.24,70.08 L184.45,70.53 L184.66,70.98 L184.87,71.43 L185.08,71.89 L185.29,72.34 L185.51,72.79 L185.72,73.24 L185.93,73.69 L186.15,74.15 L186.37,74.60 L186.58,75.05 L186.80,75.50 L187.02,75.95 L187.23,76.41 L187.45,76.86 L187.67,77.31 L187.89,77.76 L188.11,78.21 L188.33,78.67 L188.55,79.12 L188.77,79.57 L188.99,80.02 L189.21,80.47 L189.43,80.93 L189.65,81.38 L189.87,81.83 L190.09,82.28 L190.31,82.73 L190.53,83.19 L190.75,83.64 L190.97,84.09 L191.19,84.55 L191.41,85.00 L191.62,85.45 L191.84,85.90 L192.06,86.36 L192.27,86.81 L192.49,87.26 L192.71,87.72 L192.92,88.17 L193.14,88.63 L193.35,89.08 L193.56,89.53 L193.77,89.99 L193.99,90.44 L194.20,90.90 L194.40,91.35 L194.61,91.81 L194.82,92.27 L195.03,92.72 L195.23,93.18 L195.44,93.63 L195.64,94.09 L195.84,94.55 L196.04,95.00 L196.24,95.46 L196.44,95.92 L196.63,96.38 L196.83,96.83 L197.02,97.29 L197.21,97.75 L197.40,98.21 L197.59,98.67 L197.78,99.13 L197.96,99.59 L198.15,100.05 L198.33,100.51 L198.51,100.97 L198.69,101.43 L198.88,101.89 L199.06,102.35 L199.23,102.81 L199.41,103.27 L199.59,103.73 L199.77,104.19 L199.95,104.66 L200.13,105.12 L200.31,105.58 L200.49,106.04 L200.68,106.50 L200.86,106.96 L201.04,107.43 L201.23,107.89 L201.41,108.35 L201.60,108.81 L201.79,109.27 L201.98,109.73 L202.18,110.19 L202.37,110.65 L202.57,111.11 L202.77,111.57 L202.97,112.03 L203.18,112.49 L203.39,112.95 L203.60,113.41 L203.81,113.87 L204.03,114.33 L204.25,114.78 L204.48,115.24 L204.70,115.70 L204.94,116.16 L205.17,116.61 L205.41,117.07 L205.66,117.52 L205.91,117.98 L206.16,118.43 L206.42,118.89 L206.69,119.34 L206.96,119.79 L207.23,120.24 L207.51,120.68 L207.80,121.11 L208.09,121.54 L208.39,121.96 L208.70,122.36 L209.01,122.76 L209.33,123.14 L209.66,123.51 L210.00,123.85 L210.34,124.19 L210.69,124.50 L211.06,124.79 L211.43,125.06 L211.81,125.31 L212.20,125.53 L212.59,125.73 L213.00,125.89 L213.42,126.03 L213.85,126.14 L214.29,126.22 L214.75,126.26 L215.21,126.27 L215.68,126.25 L216.17,126.20 L216.66,126.12 L217.15,126.01 L217.66,125.88 L218.17,125.73 L218.68,125.55 L219.19,125.36 L219.71,125.15 L220.23,124.92 L220.74,124.68 L221.26,124.43 L221.77,124.17 L222.28,123.91 L222.79,123.64 L223.29,123.36 L223.78,123.09 L224.27,122.83 L224.74,122.58 L225.21,122.37 L225.67,122.20 L226.12,122.08 L226.55,122.03 L226.98,122.04 L227.39,122.11 L227.79,122.23 L228.18,122.41 L228.55,122.63 L228.91,122.90 L229.27,123.20 L229.61,123.54 L229.93,123.90 L230.25,124.29 L230.55,124.70 L230.84,125.13 L231.12,125.57 L231.39,126.02 L231.65,126.47 L231.89,126.92 L232.13,127.38 L232.35,127.84 L232.56,128.30 L232.76,128.76 L232.95,129.23 L233.13,129.70 L233.31,130.17 L233.47,130.64 L233.63,131.12 L233.77,131.59 L233.91,132.07 L234.05,132.55 L234.17,133.04 L234.29,133.52 L234.41,134.00 L234.51,134.49 L234.61,134.98 L234.71,135.47 L234.80,135.96 L234.89,136.45 L234.97,136.94 L235.05,137.44 L235.13,137.93 L235.20,138.43 L235.27,138.92 L235.34,139.42 L235.41,139.91 L235.47,140.41 L235.53,140.90 L235.60,141.40 L235.66,141.90 L235.72,142.40 L235.77,142.89 L235.83,143.39 L235.89,143.89 L235.94,144.39 L235.99,144.88 L236.04,145.38 L236.09,145.88 L236.14,146.38 L236.19,146.88 L236.24,147.38 L236.29,147.88 L236.33,148.38 L236.37,148.88 L236.42,149.37 L236.46,149.87 L236.50,150.37 L236.54,150.87 L236.58,151.37 L236.62,151.87 L236.66,152.37 L236.70,152.87 L236.73,153.37 L236.77,153.88 L236.80,154.38 L236.84,154.88 L236.87,155.38 L236.90,155.88 L236.94,156.38 L236.97,156.88 L237.00,157.38 L237.03,157.88 L237.06,158.38 L237.09,158.88 L237.12,159.38 L237.15,159.88 L237.18,160.38 L237.21,160.88 L237.24,161.38 L237.27,161.88 L237.30,162.38 L237.33,162.88 L237.36,163.39 L237.38,163.89 L237.41,164.39 L237.44,164.89 L237.47,165.39 L237.50,165.89 L237.52,166.39 L237.55,166.88 L237.58,167.38 L237.61,167.88 L237.64,168.38 L237.67,168.88 L237.70,169.38 L237.72,169.88 L237.75,170.38 L237.78,170.88 L237.81,171.38 L237.84,171.87 L237.88,172.37 L237.91,172.87 L237.94,173.37 L237.97,173.86 L238.00,174.36 L238.04,174.86 L238.07,175.35 L238.11,175.85 L238.14,176.35 L238.18,176.84 L238.21,177.34 L238.25,177.83 L238.29,178.33 L238.33,178.83 L238.37,179.32 L238.41,179.81 L238.45,180.31 L238.49,180.80 L238.53,181.30 L238.58,181.79 L238.62,182.29 L238.67,182.78 L238.71,183.27 L238.76,183.77 L238.81,184.26 L238.86,184.76 L238.91,185.25 L238.97,185.75 L239.02,186.24 L239.07,186.73 L239.13,187.23 L239.19,187.72 L239.25,188.22 L239.31,188.71 L239.37,189.21 L239.43,189.70 L239.49,190.20 L239.56,190.70 L239.63,191.19 L239.69,191.69 L239.76,192.19 L239.83,192.68 L239.91,193.18 L239.98,193.68 L240.06,194.18 L240.14,194.68 L240.22,195.18 L240.30,195.68 L240.38,196.18 L240.46,196.68 L240.55,197.18 L240.64,197.68 L240.73,198.19 L240.82,198.69 L240.91,199.19 L241.01,199.70 L241.11,200.20 L241.21,200.71 L241.31,201.21 L241.42,201.72 L241.53,202.21 L241.66,202.71 L241.79,203.20 L241.94,203.68 L242.10,204.15 L242.27,204.61 L242.45,205.06 L242.66,205.50 L242.88,205.93 L243.12,206.34 L243.39,206.74 L243.68,207.12 L243.99,207.48 L244.32,207.82 L244.69,208.13 L245.08,208.43 L245.50,208.71 L245.95,208.96 L246.41,209.18 L246.89,209.39 L247.38,209.57 L247.88,209.73 L248.38,209.87 L248.88,209.99 L249.37,210.08 L249.87,210.16 L250.37,210.22 L250.87,210.26 L251.37,210.29 L251.87,210.30 L252.37,210.30 L252.87,210.29 L253.37,210.27 L253.87,210.24 L254.37,210.20 L254.87,210.15 L255.37,210.10 L255.87,210.05 L256.37,209.99 L256.87,209.93 L257.37,209.87 L257.86,209.82 L258.36,209.76 L258.86,209.71 L259.36,209.66 L259.86,209.62 L260.36,209.58 L260.86,209.55 L261.35,209.53 L261.85,209.52 L262.35,209.51 L262.85,209.50 L263.35,209.50 L263.85,209.51 L264.35,209.52 L264.85,209.53 L265.35,209.54 L265.86,209.55 L266.36,209.57 L266.87,209.58 L267.38,209.60 L267.88,209.63 L268.39,209.66 L268.90,209.69 L269.40,209.74 L269.90,209.79 L270.40,209.85 L270.89,209.93 L271.38,210.01 L271.86,210.11 L272.34,210.23 L272.81,210.36 L273.28,210.50 L273.73,210.67 L274.18,210.85 L274.63,211.06 L275.06,211.28 L275.48,211.53 L275.89,211.80 L276.29,212.10 L276.68,212.42 L277.07,212.76 L277.44,213.11 L277.81,213.47 L278.19,213.83 L278.56,214.20 L278.93,214.56 L279.30,214.92 L279.68,215.26 L280.07,215.59 L280.47,215.90 L280.87,216.20 L281.27,216.48 L281.68,216.77 L282.08,217.04 L282.48,217.33 L282.87,217.62 L283.25,217.92 L283.62,218.23 L283.97,218.57 L284.30,218.93 L284.62,219.31 L284.94,219.70 L285.25,220.10 L285.57,220.51 L285.90,220.92 L286.24,221.32 L286.61,221.71 L287.00,222.09 L287.42,222.44 L287.88,222.77 L288.36,223.05 L288.85,223.28 L289.33,223.42 L289.80,223.47 L290.24,223.42 L290.66,223.25 L291.04,222.99 L291.39,222.67 L291.73,222.32 L292.04,221.95 L292.33,221.56 L292.60,221.17 L292.85,220.76 L293.08,220.34 L293.30,219.92 L293.50,219.48 L293.69,219.04 L293.87,218.59 L294.03,218.13 L294.17,217.67 L294.31,217.19 L294.44,216.71 L294.55,216.23 L294.66,215.74 L294.76,215.25 L294.85,214.75 L294.93,214.25 L295.01,213.74 L295.09,213.24 L295.16,212.73 L295.23,212.22 L295.29,211.70 L295.36,211.19 L295.42,210.68 L295.49,210.17 L295.55,209.66 L295.62,209.15 L295.69,208.64 L295.77,208.14 L295.84,207.63 L295.92,207.13 L296.00,206.63 L296.08,206.13 L296.16,205.63 L296.25,205.14 L296.33,204.64 L296.42,204.15 L296.51,203.65 L296.60,203.16 L296.69,202.67 L296.78,202.18 L296.87,201.69 L296.96,201.20 L297.05,200.71 L297.14,200.22 L297.23,199.73 L297.32,199.24 L297.41,198.76 L297.50,198.27 L297.58,197.78 L297.67,197.29 L297.76,196.81 L297.84,196.32 L297.92,195.83 L298.00,195.34 L298.08,194.86 L298.16,194.37 L298.23,193.88 L298.31,193.39 L298.38,192.90 L298.45,192.41 L298.52,191.92 L298.59,191.43 L298.65,190.94 L298.72,190.45 L298.78,189.96 L298.84,189.47 L298.90,188.98 L298.96,188.48 L299.02,187.99 L299.08,187.50 L299.14,187.00 L299.20,186.51 L299.25,186.02 L299.31,185.52 L299.36,185.03 L299.42,184.53 L299.47,184.04 L299.53,183.54 L299.58,183.05 L299.64,182.55 L299.69,182.05 L299.75,181.56 L299.80,181.06 L299.85,180.56 L299.91,180.06 L299.97,179.57 L300.02,179.07 L300.08,178.57 L300.14,178.07 L300.19,177.57 L300.25,177.07 L300.31,176.57 L300.37,176.07 L300.43,175.57 L300.50,175.07 L300.56,174.57 L300.63,174.07 L300.69,173.57 L300.76,173.06 L300.83,172.56 L300.90,172.06 L300.97,171.56 L301.05,171.05 L301.12,170.55 L301.20,170.05 L301.28,169.54 L301.36,169.04 L301.45,168.53 L301.53,168.03 L301.62,167.52 L301.71,167.02 L301.81,166.51 L301.90,166.01 L302.01,165.51 L302.11,165.01 L302.23,164.51 L302.35,164.02 L302.49,163.53 L302.63,163.05 L302.79,162.58 L302.97,162.12 L303.15,161.67 L303.36,161.23 L303.58,160.80 L303.82,160.38 L304.09,159.98 L304.37,159.59 L304.68,159.22 L305.02,158.87 L305.38,158.54 L305.76,158.22 L306.17,157.94 L306.59,157.68 L307.03,157.45 L307.48,157.25 L307.94,157.10 L308.41,156.98 L308.88,156.91 L309.35,156.87 L309.83,156.87 L310.31,156.89 L310.79,156.95 L311.28,157.02 L311.77,157.12 L312.26,157.23 L312.76,157.35 L313.26,157.49 L313.76,157.63 L314.26,157.78 L314.77,157.92 L315.28,158.06 L315.78,158.20 L316.29,158.32 L316.80,158.43 L317.32,158.52 L317.83,158.59 L318.34,158.64 L318.86,158.67 L319.37,158.66 L319.88,158.62 L320.38,158.54 L320.87,158.43 L321.34,158.28 L321.79,158.10 L322.21,157.87 L322.60,157.60 L322.96,157.29 L323.29,156.95 L323.59,156.57 L323.87,156.16 L324.13,155.72 L324.37,155.27 L324.59,154.80 L324.80,154.32 L325.00,153.84 L325.20,153.35 L325.38,152.86 L325.57,152.38 L325.75,151.90 L325.94,151.43 L326.12,150.95 L326.29,150.48 L326.47,150.02 L326.64,149.55 L326.82,149.09 L326.99,148.63 L327.15,148.17 L327.32,147.70 L327.49,147.24 L327.65,146.78 L327.82,146.32 L327.98,145.85 L328.14,145.38 L328.30,144.91 L328.46,144.44 L328.62,143.96 L328.78,143.49 L328.94,143.01 L329.09,142.53 L329.25,142.05 L329.40,141.57 L329.55,141.08 L329.70,140.60 L329.85,140.11 L330.00,139.63 L330.15,139.14 L330.29,138.66 L330.44,138.17 L330.58,137.69 L330.72,137.20 L330.86,136.72 L331.00,136.24 L331.13,135.75 L331.27,135.27 L331.40,134.79 L331.53,134.31 L331.65,133.84 L331.78,133.36 L331.90,132.89 L332.03,132.42 L332.15,131.95 L332.27,131.48 L332.39,131.01 L332.51,130.54 L332.64,130.08 L332.77,129.61 L332.90,129.14 L333.04,128.67 L333.19,128.19 L333.34,127.72 L333.50,127.24 L333.67,126.76 L333.85,126.27 L334.04,125.78 L334.25,125.29 L334.46,124.79 L334.69,124.28 L334.94,123.77 L335.20,123.25 L335.47,122.74 L335.76,122.25 L336.06,121.80 L336.37,121.41 L336.68,121.10 L337.00,120.89 L337.32,120.79 L337.64,120.82 L337.95,120.98 L338.26,121.24 L338.56,121.59 L338.85,122.02 L339.12,122.49 L339.38,123.00 L339.61,123.52 L339.82,124.05 L340.00,124.57 L340.17,125.08 L340.31,125.59 L340.44,126.10 L340.55,126.60 L340.66,127.10 L340.75,127.61 L340.84,128.10 L340.92,128.60 L341.00,129.10 L341.08,129.60 L341.16,130.10 L341.23,130.60 L341.31,131.09 L341.38,131.59 L341.45,132.09 L341.52,132.59 L341.59,133.08 L341.66,133.58 L341.73,134.08 L341.79,134.57 L341.86,135.07 L341.92,135.56 L341.98,136.06 L342.04,136.56 L342.10,137.05 L342.16,137.55 L342.22,138.04 L342.28,138.54 L342.33,139.04 L342.39,139.53 L342.44,140.03 L342.50,140.52 L342.55,141.02 L342.60,141.51 L342.65,142.01 L342.70,142.50 L342.75,143.00 L342.80,143.49 L342.85,143.99 L342.90,144.48 L342.94,144.98 L342.99,145.47 L343.03,145.96 L343.08,146.46 L343.12,146.95 L343.17,147.45 L343.21,147.94 L343.25,148.44 L343.29,148.93 L343.34,149.43 L343.38,149.92 L343.42,150.42 L343.46,150.91 L343.50,151.40 L343.54,151.90 L343.58,152.39 L343.62,152.89 L343.66,153.38 L343.70,153.88 L343.73,154.37 L343.77,154.87 L343.81,155.36 L343.85,155.86 L343.89,156.35 L343.93,156.85 L343.97,157.34 L344.00,157.84 L344.04,158.33 L344.08,158.83 L344.12,159.32 L344.16,159.82 L344.19,160.31 L344.23,160.81 L344.27,161.31 L344.31,161.80 L344.35,162.30 L344.39,162.79 L344.43,163.29 L344.47,163.79 L344.51,164.28 L344.55,164.78 L344.59,165.28 L344.63,165.77 L344.67,166.27 L344.72,166.77 L344.76,167.27 L344.80,167.76 L344.85,168.26 L344.89,168.76 L344.94,169.26 L344.98,169.76 L345.03,170.25 L345.07,170.75 L345.12,171.25 L345.17,171.75 L345.22,172.25 L345.27,172.75 L345.32,173.25 L345.37,173.75 L345.42,174.25 L345.47,174.75 L345.53,175.25 L345.58,175.75 L345.64,176.25 L345.69,176.76 L345.75,177.26 L345.81,177.76 L345.87,178.26 L345.93,178.76 L345.99,179.27 L346.05,179.77 L346.11,180.27 L346.18,180.78 L346.25,181.28 L346.31,181.79 L346.38,182.29 L346.45,182.80 L346.52,183.30 L346.59,183.81 L346.67,184.31 L346.74,184.82 L346.82,185.33 L346.89,185.83 L346.97,186.34 L347.05,186.85 L347.14,187.35 L347.22,187.86 L347.31,188.36 L347.40,188.87 L347.49,189.37 L347.59,189.88 L347.69,190.38 L347.79,190.88 L347.89,191.38 L348.00,191.87 L348.11,192.37 L348.23,192.86 L348.35,193.35 L348.48,193.84 L348.61,194.33 L348.74,194.81 L348.88,195.29 L349.02,195.77 L349.17,196.25 L349.32,196.72 L349.48,197.19 L349.65,197.65 L349.82,198.11 L350.00,198.57 L350.18,199.02 L350.37,199.47 L350.57,199.92 L350.77,200.36 L350.98,200.79 L351.20,201.22 L351.42,201.65 L351.65,202.07 L351.89,202.48 L352.14,202.89 L352.40,203.30 L352.66,203.69 L352.93,204.09 L353.21,204.47 L353.50,204.85 L353.80,205.22 L354.10,205.59 L354.42,205.95 L354.74,206.30 L355.08,206.65 L355.42,206.99 L355.78,207.32 L356.14,207.64 L356.52,207.96 L356.90,208.26 L357.30,208.56 L357.70,208.85 L358.12,209.14 L358.54,209.41 L358.98,209.68 L359.42,209.94 L359.87,210.19 L360.33,210.44 L360.79,210.68 L361.26,210.91 L361.74,211.13 L362.22,211.35 L362.70,211.55 L363.19,211.76 L363.68,211.95 L364.18,212.14 L364.68,212.32 L365.18,212.49 L365.68,212.66 L366.18,212.82 L366.69,212.98 L367.19,213.13 L367.69,213.27 L368.19,213.41 L368.69,213.54 L369.19,213.66 L369.68,213.78 L370.18,213.89 L370.66,214.00 L371.15,214.11 L371.63,214.21 L372.11,214.31 L372.59,214.41 L373.06,214.52 L373.53,214.62 L374.00,214.74 L374.46,214.85 L374.93,214.97 L375.39,215.11 L375.84,215.25 L376.30,215.40 L376.75,215.56 L377.20,215.73 L377.65,215.92 L378.09,216.12 L378.53,216.33 L378.97,216.54 L379.41,216.77 L379.84,217.01 L380.27,217.26 L380.70,217.52 L381.12,217.79 L381.54,218.07 L381.95,218.35 L382.36,218.65 L382.77,218.95 L383.17,219.26 L383.57,219.57 L383.96,219.89 L384.35,220.22 L384.73,220.55 L385.11,220.89 L385.48,221.23 L385.85,221.58 L386.21,221.94 L386.57,222.29 L386.92,222.65 L387.26,223.02 L387.60,223.39 L387.94,223.76 L388.27,224.13 L388.60,224.51 L388.93,224.89 L389.25,225.27 L389.57,225.65 L389.89,226.03 L390.21,226.42 L390.52,226.80 L390.84,227.19 L391.15,227.58 L391.47,227.97 L391.78,228.36 L392.09,228.75 L392.41,229.13 L392.72,229.52 L393.03,229.92 L393.34,230.31 L393.66,230.70 L393.97,231.09 L394.28,231.49 L394.58,231.88 L394.89,232.28 L395.20,232.67 L395.50,233.07 L395.80,233.47 L396.10,233.87 L396.40,234.27 L396.70,234.67 L396.99,235.07 L397.29,235.48 L397.58,235.89 L397.86,236.29 L398.15,236.70 L398.43,237.11 L398.71,237.53 L398.99,237.94 L399.26,238.36 L399.53,238.78 L399.80,239.20 L400.07,239.62 L400.33,240.04 L400.58,240.47 L400.84,240.90 L401.09,241.33 L401.33,241.76 L401.58,242.19 L401.81,242.63 L402.05,243.07 L402.28,243.51 L402.50,243.96 L402.72,244.40 L402.93,244.85 L403.14,245.30 L403.35,245.76 L403.55,246.22 L403.74,246.68 L403.93,247.14 L404.12,247.61 L404.30,248.08 L404.47,248.55 L404.64,249.03 L404.80,249.50 L404.96,249.98 L405.12,250.46 L405.28,250.94 L405.44,251.42 L405.60,251.90 L405.76,252.38 L405.93,252.86 L406.09,253.34 L406.26,253.81 L406.44,254.28 L406.62,254.75 L406.81,255.21 L407.01,255.68 L407.21,256.13 L407.43,256.58 L407.65,257.03 L407.89,257.47 L408.14,257.90 L408.40,258.33 L408.68,258.75 L408.97,259.16 L409.28,259.56 L409.60,259.96 L409.94,260.34 L410.30,260.72 L410.68,261.08 L411.08,261.43 L411.50,261.76 L411.92,262.06 L412.36,262.31 L412.81,262.51 L413.26,262.63 L413.71,262.68 L414.15,262.63 L414.59,262.50 L415.02,262.29 L415.45,262.01 L415.86,261.69 L416.26,261.32 L416.65,260.93 L417.02,260.52 L417.38,260.11 L417.72,259.71 L418.05,259.30 L418.36,258.90 L418.66,258.49 L418.95,258.09 L419.23,257.69 L419.50,257.29 L419.77,256.88 L420.02,256.48 L420.28,256.07 L420.53,255.66 L420.78,255.24 L421.02,254.83 L421.27,254.40 L421.52,253.97 L421.78,253.54 L422.03,253.10 L422.30,252.65 L422.57,252.20 L422.85,251.74 L423.13,251.28 L423.43,250.82 L423.74,250.37 L424.06,249.93 L424.40,249.51 L424.75,249.12 L425.11,248.75 L425.49,248.42 L425.88,248.13 L426.29,247.88 L426.72,247.67 L427.17,247.52 L427.62,247.41 L428.09,247.34 L428.56,247.32 L429.03,247.34 L429.50,247.40 L429.96,247.50 L430.42,247.64 L430.87,247.82 L431.30,248.03 L431.71,248.28 L432.11,248.56 L432.48,248.87 L432.83,249.21 L433.17,249.58 L433.48,249.97 L433.79,250.37 L434.08,250.80 L434.37,251.24 L434.65,251.68 L434.92,252.14 L435.19,252.60 L435.46,253.06 L435.72,253.52 L436.00,253.97 L436.27,254.42 L436.55,254.87 L436.83,255.31 L437.12,255.74 L437.42,256.16 L437.72,256.57 L438.03,256.97 L438.35,257.36 L438.67,257.73 L439.01,258.10 L439.36,258.44 L439.71,258.77 L440.08,259.08 L440.47,259.38 L440.86,259.65 L441.27,259.91 L441.69,260.14 L442.13,260.35 L442.59,260.54 L443.06,260.71 L443.55,260.84 L444.05,260.96 L444.56,261.04 L445.08,261.10 L445.60,261.13 L446.11,261.13 L446.63,261.11 L447.13,261.06 L447.62,260.97 L448.10,260.87 L448.57,260.73 L449.03,260.58 L449.48,260.40 L449.93,260.20 L450.37,259.99 L450.80,259.76 L451.23,259.51 L451.65,259.26 L452.07,258.99 L452.49,258.72 L452.91,258.43 L453.33,258.15 L453.75,257.85 L454.17,257.56 L454.60,257.27 L455.02,256.98 L455.45,256.68 L455.87,256.39 L456.30,256.09 L456.72,255.80 L457.14,255.49 L457.55,255.19 L457.95,254.88 L458.35,254.56 L458.74,254.24 L459.12,253.91 L459.50,253.58 L459.86,253.24 L460.22,252.89 L460.58,252.54 L460.92,252.19 L461.26,251.83 L461.59,251.46 L461.91,251.09 L462.23,250.72 L462.54,250.34 L462.85,249.96 L463.15,249.57 L463.45,249.18 L463.73,248.78 L464.02,248.38 L464.30,247.98 L464.57,247.57 L464.84,247.16 L465.11,246.74 L465.37,246.32 L465.63,245.90 L465.88,245.48 L466.13,245.05 L466.38,244.62 L466.62,244.19 L466.86,243.75 L467.10,243.32 L467.33,242.88 L467.56,242.43 L467.79,241.99 L468.02,241.54 L468.24,241.10 L468.47,240.65 L468.69,240.20 L468.91,239.74 L469.13,239.29 L469.35,238.83 L469.56,238.38 L469.78,237.92 L470.00,237.46 L470.21,237.01 L470.43,236.55 L470.64,236.09 L470.86,235.63 L471.07,235.17 L471.29,234.71 L471.51,234.25 L471.73,233.80 L471.94,233.34 L472.16,232.88 L472.38,232.43 L472.61,231.97 L472.83,231.52 L473.06,231.07 L473.28,230.62 L473.51,230.17 L473.74,229.72 L473.98,229.28 L474.21,228.83 L474.45,228.39 L474.70,227.95 L474.94,227.52 L475.19,227.08 L475.44,226.65 L475.70,226.22 L475.96,225.80 L476.22,225.38 L476.49,224.96 L476.76,224.54 L477.03,224.13 L477.31,223.73 L477.60,223.32 L477.89,222.92 L478.18,222.53 L478.48,222.14 L478.78,221.75 L479.09,221.37 L479.41,220.99 L479.73,220.62 L480.06,220.25 L480.39,219.89 L480.73,219.53 L481.08,219.18 L481.43,218.83 L481.78,218.49 L482.14,218.15 L482.50,217.81 L482.87,217.47 L483.24,217.14 L483.61,216.81 L483.98,216.48 L484.36,216.15 L484.73,215.83 L485.11,215.50 L485.49,215.17 L485.87,214.84 L486.24,214.52 L486.62,214.19 L486.99,213.85 L487.37,213.52 L487.74,213.19 L488.11,212.85 L488.47,212.50 L488.83,212.16 L489.19,211.81 L489.54,211.46 L489.89,211.10 L490.24,210.73 L490.57,210.36 L490.91,209.99 L491.23,209.61 L491.55,209.22 L491.86,208.82 L492.17,208.42 L492.46,208.01 L492.75,207.59 L493.03,207.17 L493.31,206.74 L493.58,206.31 L493.85,205.87 L494.11,205.43 L494.37,204.98 L494.62,204.53 L494.87,204.08 L495.12,203.62 L495.36,203.17 L495.61,202.71 L495.85,202.25 L496.09,201.79 L496.33,201.34 L496.57,200.88 L496.81,200.42 L497.05,199.97 L497.29,199.52 L497.54,199.07 L497.78,198.62 L498.03,198.18 L498.29,197.74 L498.54,197.31 L498.80,196.88 L499.06,196.46 L499.33,196.04 L499.61,195.64 L499.89,195.23 L500.17,194.84 L500.47,194.45 L500.77,194.07 L501.07,193.71 L501.39,193.35 L501.71,193.00 L502.05,192.66 L502.39,192.33 L502.74,192.02 L503.10,191.71 L503.48,191.42 L503.86,191.15 L504.26,190.88 L504.67,190.63 L505.09,190.40 L505.52,190.17 L505.96,189.97 L506.41,189.78 L506.88,189.60 L507.35,189.43 L507.83,189.28 L508.31,189.15 L508.80,189.02 L509.30,188.92 L509.80,188.82 L510.31,188.74 L510.82,188.68 L511.34,188.63 L511.86,188.59 L512.37,188.57 L512.89,188.56 L513.41,188.56 L513.93,188.58 L514.45,188.62 L514.97,188.66 L515.48,188.72 L515.99,188.80 L516.50,188.89 L517.00,188.99 L517.50,189.10 L517.99,189.23 L518.48,189.38 L518.96,189.54 L519.43,189.71 L519.89,189.89 L520.34,190.09 L520.79,190.30 L521.23,190.52 L521.66,190.75 L522.08,191.00 L522.50,191.26 L522.91,191.52 L523.32,191.80 L523.72,192.08 L524.11,192.38 L524.50,192.68 L524.89,193.00 L525.26,193.32 L525.64,193.64 L526.01,193.98 L526.37,194.32 L526.73,194.67 L527.09,195.02 L527.44,195.38 L527.79,195.74 L528.14,196.11 L528.48,196.48 L528.83,196.86 L529.16,197.24 L529.50,197.62 L529.84,198.00 L530.17,198.39 L530.50,198.78 L530.83,199.17 L531.16,199.56 L531.49,199.95 L531.81,200.34 L532.14,200.73 L532.46,201.12 L532.78,201.52 L533.09,201.91 L533.40,202.31 L533.71,202.71 L534.01,203.12 L534.31,203.52 L534.60,203.93 L534.88,204.34 L535.16,204.76 L535.43,205.17 L535.70,205.59 L535.95,206.02 L536.20,206.45 L536.44,206.88 L536.68,207.31 L536.91,207.75 L537.13,208.19 L537.34,208.64 L537.55,209.08 L537.75,209.53 L537.95,209.99 L538.13,210.44 L538.32,210.90 L538.50,211.36 L538.67,211.82 L538.84,212.29 L539.00,212.76 L539.15,213.23 L539.31,213.70 L539.45,214.18 L539.59,214.65 L539.73,215.13 L539.87,215.61 L539.99,216.09 L540.12,216.58 L540.24,217.06 L540.36,217.55 L540.47,218.04 L540.58,218.53 L540.69,219.02 L540.80,219.51 L540.90,220.00 L541.00,220.50 L541.09,220.99 L541.18,221.49 L541.28,221.99 L541.36,222.48 L541.45,222.98 L541.54,223.48 L541.62,223.98 L541.70,224.48 L541.78,224.98 L541.86,225.48 L541.94,225.98 L542.01,226.48 L542.09,226.98 L542.16,227.48 L542.24,227.98 L542.31,228.48 L542.39,228.98 L542.46,229.48 L542.54,229.98 L542.61,230.47 L542.68,230.97 L542.76,231.47 L542.83,231.96 L542.91,232.46 L542.98,232.95 L543.06,233.45 L543.13,233.94 L543.21,234.44 L543.28,234.93 L543.36,235.42 L543.44,235.92 L543.51,236.41 L543.59,236.90 L543.66,237.39 L543.73,237.89 L543.81,238.38 L543.88,238.87 L543.96,239.36 L544.03,239.85 L544.11,240.34 L544.18,240.84 L544.25,241.33 L544.32,241.82 L544.40,242.31 L544.47,242.80 L544.54,243.29 L544.61,243.79 L544.68,244.28 L544.75,244.77 L544.82,245.26 L544.89,245.76 L544.96,246.25 L545.02,246.74 L545.09,247.24 L545.16,247.73 L545.22,248.22 L545.28,248.72 L545.35,249.21 L545.41,249.71 L545.47,250.21 L545.54,250.70 L545.60,251.20 L545.66,251.70 L545.72,252.20 L545.78,252.69 L545.84,253.19 L545.90,253.69 L545.96,254.19 L546.02,254.69 L546.08,255.19 L546.14,255.68 L546.21,256.18 L546.27,256.68 L546.34,257.18 L546.41,257.68 L546.48,258.17 L546.55,258.67 L546.62,259.17 L546.70,259.66 L546.78,260.16 L546.86,260.65 L546.94,261.15 L547.03,261.64 L547.12,262.13 L547.21,262.62 L547.30,263.12 L547.40,263.61 L547.51,264.09 L547.61,264.58 L547.72,265.07 L547.84,265.55 L547.96,266.04 L548.08,266.52 L548.21,267.00 L548.35,267.48 L548.49,267.96 L548.63,268.44 L548.78,268.91 L548.93,269.38 L549.09,269.86 L549.26,270.33 L549.43,270.79 L549.61,271.26 L549.80,271.72 L549.99,272.19 L550.19,272.65 L550.39,273.11 L550.60,273.56 L550.82,274.02 L551.05,274.47 L551.28,274.91 L551.52,275.36 L551.77,275.80 L552.02,276.24 L552.28,276.67 L552.55,277.10 L552.82,277.53 L553.10,277.95 L553.39,278.36 L553.68,278.77 L553.99,279.18 L554.29,279.58 L554.61,279.97 L554.93,280.36 L555.25,280.74 L555.59,281.11 L555.93,281.48 L556.28,281.84 L556.63,282.20 L556.99,282.54 L557.36,282.88 L557.73,283.21 L558.11,283.53 L558.49,283.85 L558.89,284.15 L559.28,284.45 L559.69,284.73 L560.10,285.01 L560.52,285.28 L560.94,285.54 L561.38,285.78 L561.82,286.02 L562.26,286.25 L562.72,286.46 L563.18,286.67 L563.65,286.86 L564.13,287.04 L564.61,287.21 L565.10,287.37 L565.60,287.51 L566.10,287.62 L566.60,287.71 L567.10,287.77 L567.59,287.80 L568.08,287.79 L568.57,287.75 L569.05,287.66 L569.52,287.55 L569.99,287.41 L570.46,287.24 L570.92,287.05 L571.38,286.84 L571.84,286.61 L572.29,286.37 L572.75,286.13 L573.20,285.88 L573.66,285.63 L574.11,285.39 L574.57,285.15 L575.03,284.92 L575.49,284.70 L575.96,284.49 L576.43,284.30 L576.90,284.13 L577.38,283.98 L577.86,283.86 L578.34,283.76 L578.84,283.70 L579.33,283.66 L579.84,283.66 L580.34,283.70 L580.85,283.76 L581.34,283.86 L581.83,284.00 L582.31,284.16 L582.77,284.36 L583.22,284.59 L583.64,284.85 L584.04,285.14 L584.40,285.46 L584.74,285.82 L585.04,286.20 L585.31,286.60 L585.56,287.03 L585.79,287.48 L585.99,287.95 L586.18,288.42 L586.35,288.91 L586.51,289.41 L586.66,289.92 L586.81,290.42 L586.95,290.93 L587.09,291.43 L587.23,291.93 L587.37,292.42 L587.51,292.92 L587.65,293.41 L587.79,293.89 L587.93,294.38 L588.07,294.86 L588.20,295.34 L588.34,295.82 L588.47,296.30 L588.61,296.77 L588.74,297.25 L588.87,297.72 L589.00,298.20 L589.12,298.67 L589.25,299.14 L589.37,299.62 L589.50,300.09 L589.62,300.57 L589.74,301.04 L589.85,301.52 L589.97,302.00 L590.08,302.48 L590.19,302.97 L590.30,303.45 L590.40,303.94 L590.51,304.42 L590.61,304.91 L590.71,305.40 L590.82,305.89 L590.92,306.39 L591.02,306.88 L591.13,307.37 L591.24,307.86 L591.35,308.36 L591.46,308.85 L591.57,309.34 L591.69,309.83 L591.80,310.32 L591.93,310.81 L592.05,311.30 L592.19,311.79 L592.32,312.28 L592.46,312.76 L592.61,313.25 L592.76,313.73 L592.92,314.21 L593.08,314.68 L593.26,315.16 L593.43,315.63 L593.62,316.10 L593.82,316.57 L594.02,317.03 L594.23,317.49 L594.45,317.95 L594.68,318.40 L594.92,318.85 L595.17,319.30 L595.43,319.74 L595.71,320.18 L595.99,320.61 L596.28,321.02 L596.59,321.38 L596.90,321.66 L597.22,321.83 L597.54,321.85 L597.86,321.72 L598.18,321.46 L598.50,321.09 L598.81,320.64 L599.11,320.13 L599.39,319.58 L599.65,319.03 L599.89,318.48 L600.12,317.94 L600.32,317.41 L600.50,316.89 L600.67,316.37 L600.82,315.86 L600.95,315.36 L601.08,314.86 L601.19,314.37 L601.29,313.89 L601.38,313.40 L601.46,312.92 L601.54,312.45 L601.61,311.97 L601.67,311.50 L601.74,311.03 L601.80,310.56 L601.86,310.09 L601.92,309.62 L601.98,309.15 L602.05,308.68 L602.12,308.20 L602.19,307.73 L602.26,307.25 L602.34,306.77 L602.42,306.29 L602.51,305.81 L602.59,305.33 L602.68,304.84 L602.77,304.35 L602.86,303.87 L602.96,303.38 L603.05,302.89 L603.14,302.40 L603.24,301.91 L603.34,301.41 L603.43,300.92 L603.53,300.43 L603.62,299.93 L603.72,299.44 L603.82,298.94 L603.91,298.44 L604.00,297.95 L604.10,297.45 L604.19,296.95 L604.28,296.45 L604.37,295.95 L604.46,295.45 L604.55,294.95 L604.63,294.45 L604.72,293.95 L604.80,293.45 L604.89,292.95 L604.97,292.45 L605.05,291.95 L605.14,291.45 L605.22,290.95 L605.30,290.45 L605.38,289.95 L605.46,289.45 L605.54,288.95 L605.62,288.45 L605.70,287.95 L605.78,287.46 L605.86,286.96 L605.94,286.46 L606.02,285.96 L606.09,285.47 L606.17,284.97 L606.25,284.47 L606.33,283.98 L606.41,283.48 L606.48,282.99 L606.56,282.50 L606.64,282.00 L606.72,281.51 L606.80,281.02 L606.88,280.53 L606.96,280.04 L607.04,279.55 L607.12,279.07 L607.20,278.58 L607.28,278.10 L607.36,277.61 L607.44,277.13 L607.53,276.65 L607.61,276.17 L607.69,275.69 L607.78,275.21 L607.86,274.73 L607.95,274.26 L608.04,273.79 L608.13,273.31 L608.22,272.84 L608.31,272.37 L608.40,271.90 L608.50,271.42 L608.59,270.95 L608.69,270.47 L608.79,269.99 L608.90,269.51 L609.00,269.02 L609.11,268.53 L609.23,268.03 L609.34,267.53 L609.46,267.02 L609.59,266.50 L609.71,265.98 L609.85,265.45 L609.98,264.91 L610.13,264.37 L610.28,263.82 L610.44,263.28 L610.63,262.75 L610.84,262.24 L611.07,261.75 L611.34,261.30 L611.64,260.89 L611.98,260.53 L612.37,260.21 L612.79,259.97 L613.21,259.82 L613.62,259.78 L613.98,259.87 L614.30,260.08 L614.58,260.40 L614.83,260.79 L615.06,261.23 L615.28,261.69 L615.48,262.16 L615.68,262.63 L615.88,263.10 L616.07,263.57 L616.25,264.04 L616.43,264.52 L616.60,264.99 L616.77,265.47 L616.93,265.94 L617.09,266.42 L617.24,266.90 L617.39,267.38 L617.54,267.86 L617.67,268.34 L617.81,268.82 L617.94,269.30 L618.06,269.78 L618.19,270.27 L618.30,270.75 L618.42,271.24 L618.53,271.72 L618.64,272.21 L618.74,272.69 L618.84,273.18 L618.94,273.67 L619.03,274.16 L619.12,274.65 L619.21,275.14 L619.30,275.63 L619.38,276.12 L619.46,276.61 L619.54,277.11 L619.62,277.60 L619.69,278.09 L619.77,278.58 L619.84,279.08 L619.91,279.57 L619.98,280.07 L620.04,280.56 L620.11,281.06 L620.17,281.55 L620.24,282.05 L620.30,282.55 L620.36,283.04 L620.42,283.54 L620.48,284.04 L620.54,284.53 L620.61,285.03 L620.67,285.53 L620.73,286.02 L620.79,286.52 L620.85,287.02 L620.91,287.52 L620.97,288.02 L621.03,288.51 L621.09,289.01 L621.16,289.51 L621.22,290.01 L621.29,290.50 L621.36,291.00 L621.43,291.50 L621.50,292.00 L621.57,292.49 L621.64,292.99 L621.72,293.49 L621.79,293.98 L621.87,294.48 L621.95,294.98 L622.03,295.47 L622.12,295.97 L622.20,296.46 L622.29,296.96 L622.38,297.45 L622.47,297.95 L622.57,298.44 L622.66,298.94 L622.76,299.43 L622.86,299.92 L622.96,300.42 L623.06,300.91 L623.16,301.40 L623.27,301.89 L623.38,302.38 L623.49,302.87 L623.60,303.36 L623.71,303.85 L623.83,304.34 L623.95,304.83 L624.06,305.32 L624.19,305.80 L624.31,306.29 L624.44,306.78 L624.56,307.26 L624.69,307.75 L624.83,308.23 L624.96,308.71 L625.10,309.20 L625.24,309.68 L625.38,310.16 L625.52,310.64 L625.66,311.12 L625.81,311.60 L625.96,312.08 L626.11,312.55 L626.27,313.03 L626.42,313.50 L626.58,313.98 L626.74,314.45 L626.90,314.93 L627.07,315.40 L627.24,315.87 L627.41,316.34 L627.58,316.81 L627.75,317.28 L627.93,317.74 L628.11,318.21 L628.29,318.67 L628.47,319.14 L628.66,319.60 L628.85,320.06 L629.04,320.52 L629.23,320.98 L629.43,321.44 L629.63,321.90 L629.83,322.35 L630.03,322.81 L630.24,323.26 L630.45,323.71 L630.66,324.16 L630.87,324.61 L631.09,325.06 L631.30,325.51 L631.53,325.95 L631.75,326.40 L631.98,326.84 L632.21,327.28 L632.44,327.72 L632.67,328.16 L632.91,328.60 L633.15,329.04 L633.39,329.47 L633.64,329.91 L633.88,330.34 L634.14,330.77 L634.39,331.20 L634.65,331.62 L634.90,332.05 L635.17,332.47 L635.43,332.90 L635.70,333.32 L635.97,333.74 L636.24,334.15 L636.52,334.57 L636.80,334.98 L637.08,335.40 L637.36,335.81 L637.65,336.22 L637.94,336.62 L638.23,337.03 L638.53,337.43 L638.83,337.84 L639.13,338.24 L639.44,338.64 L639.75,339.03 L640.06,339.43 L640.37,339.82 L640.69,340.21 L641.01,340.60 L641.33,340.99 L641.66,341.37 L641.99,341.76 L642.32,342.14 L642.66,342.52 L643.00,342.90 L643.34,343.27 L643.68,343.64 L644.03,344.02" fill="none" stroke="#FFA500" stroke-width="1.55" stroke-linejoin="round"/>
<rect x="14.82" y="369.6" width="1.15" height="6.2" fill="#2a2a2a"/><text x="15.22" y="385.1" text-anchor="middle">Apr</text><rect x="60.63" y="369.6" width="1.15" height="6.2" fill="#2a2a2a"/><text x="61.03" y="385.1" text-anchor="middle">Jul</text><rect x="106.95" y="369.6" width="1.15" height="6.2" fill="#2a2a2a"/><text x="107.35" y="385.1" text-anchor="middle">Oct</text><rect x="153.26" y="369.6" width="1.15" height="6.2" fill="#2a2a2a"/><text x="153.66" y="385.1" text-anchor="middle">Jan</text><text x="153.66" y="395.4" text-anchor="middle">2023</text><rect x="198.57" y="369.6" width="1.15" height="6.2" fill="#2a2a2a"/><text x="198.97" y="385.1" text-anchor="middle">Apr</text><rect x="244.38" y="369.6" width="1.15" height="6.2" fill="#2a2a2a"/><text x="244.78" y="385.1" text-anchor="middle">Jul</text><rect x="290.69" y="369.6" width="1.15" height="6.2" fill="#2a2a2a"/><text x="291.09" y="385.1" text-anchor="middle">Oct</text><rect x="337.01" y="369.6" width="1.15" height="6.2" fill="#2a2a2a"/><text x="337.41" y="385.1" text-anchor="middle">Jan</text><text x="337.41" y="395.4" text-anchor="middle">2024</text><rect x="382.82" y="369.6" width="1.15" height="6.2" fill="#2a2a2a"/><text x="383.22" y="385.1" text-anchor="middle">Apr</text><rect x="428.63" y="369.6" width="1.15" height="6.2" fill="#2a2a2a"/><text x="429.03" y="385.1" text-anchor="middle">Jul</text><rect x="474.95" y="369.6" width="1.15" height="6.2" fill="#2a2a2a"/><text x="475.35" y="385.1" text-anchor="middle">Oct</text><rect x="521.26" y="369.6" width="1.15" height="6.2" fill="#2a2a2a"/><text x="521.66" y="385.1" text-anchor="middle">Jan</text><text x="521.66" y="395.4" text-anchor="middle">2025</text><rect x="566.57" y="369.6" width="1.15" height="6.2" fill="#2a2a2a"/><text x="566.97" y="385.1" text-anchor="middle">Apr</text><rect x="612.38" y="369.6" width="1.15" height="6.2" fill="#2a2a2a"/><text x="612.78" y="385.1" text-anchor="middle">Jul</text>
</svg>
</body></html>
